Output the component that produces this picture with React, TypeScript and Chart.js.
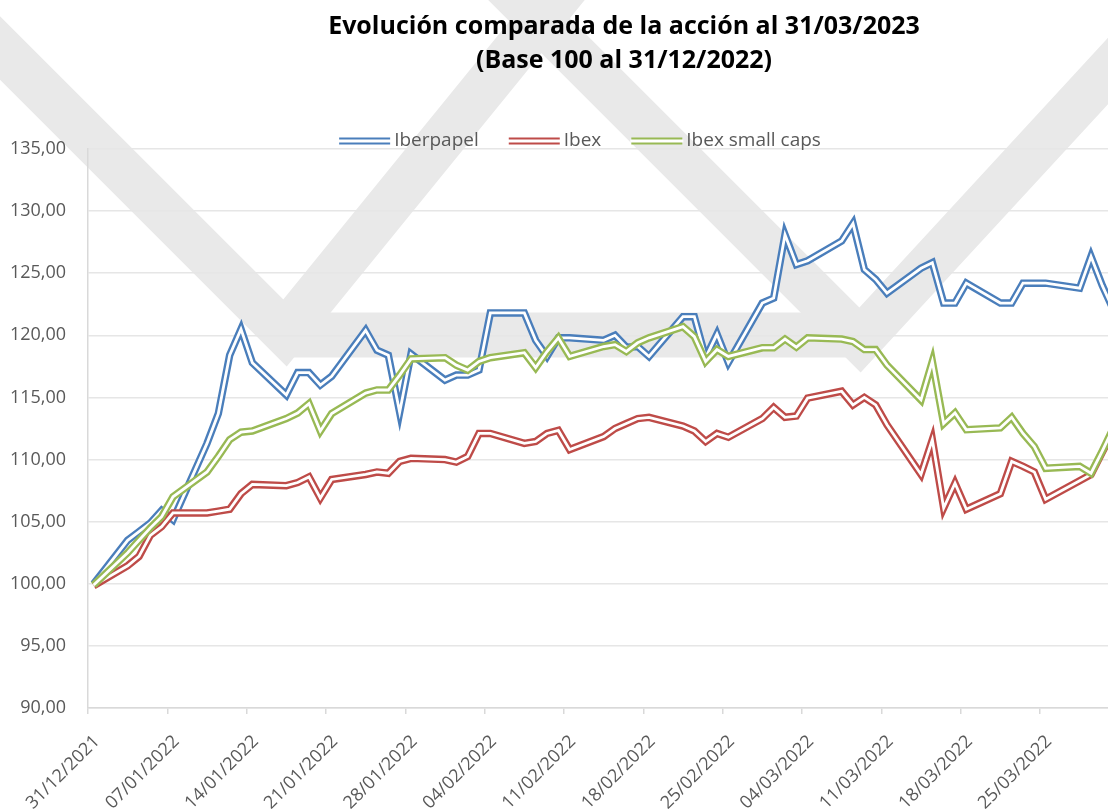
import React, { useEffect, useRef } from "react";
import { Chart, registerables } from "chart.js";

Chart.register(...registerables);

// ---------- DATA ----------
// trading days, counted in calendar days from 31/12/2021 (day 0)
const days = [
  0,
  3, 4, 5, 6, 7,
  10, 11, 12, 13, 14,
  17, 18, 19, 20, 21,
  24, 25, 26, 27, 28,
  31, 32, 33, 34, 35,
  38, 39, 40, 41, 42,
  45, 46, 47, 48, 49,
  52, 53, 54, 55, 56,
  59, 60, 61, 62, 63,
  66, 67, 68, 69, 70,
  73, 74, 75, 76, 77,
  80, 81, 82, 83, 84,
  87, 88, 89, 90,
];

const iberpapel = [
  100.0,
  103.5, 104.2, 104.9, 105.9, 105.15,
  111.3, 113.7, 118.4, 120.5, 117.8,
  115.2, 117.0, 117.0, 116.0, 116.7,
  120.4, 118.8, 118.4, 113.8, 118.5,
  116.4, 116.8, 116.8, 117.2, 121.8,
  121.8, 119.6, 118.3, 119.8, 119.8,
  119.6, 120.0, 119.05, 119.1, 118.3,
  121.5, 121.5, 118.2, 120.1, 117.8,
  122.6, 123.0, 128.1, 125.7, 126.0,
  127.6, 129.0, 125.3, 124.5, 123.4,
  125.4, 125.85, 122.6, 122.6, 124.2,
  122.6, 122.6, 124.2, 124.2, 124.2,
  123.8, 126.35, 124.0, 122.0,
];

const ibex = [
  99.85,
  101.45, 102.2, 103.9, 104.6, 105.7,
  105.7, 105.85, 106.0, 107.25, 108.0,
  107.9, 108.15, 108.6, 106.9, 108.4,
  108.8, 109.0, 108.9, 109.85, 110.1,
  110.0, 109.8, 110.25, 112.1, 112.1,
  111.3, 111.45, 112.1, 112.35, 110.8,
  111.85, 112.5, 112.9, 113.3, 113.4,
  112.7, 112.3, 111.45, 112.1, 111.8,
  113.3, 114.2, 113.4, 113.5, 114.95,
  115.5, 114.4, 115.0, 114.4, 112.8,
  108.8, 111.6, 106.1, 108.1, 106.0,
  107.25, 109.85, 109.45, 109.0, 106.8,
  108.3, 108.8, 110.6, 112.4,
];

const ibexSmallCaps = [
  99.9,
  102.5, 103.5, 104.5, 105.4, 107.0,
  109.0, 110.25, 111.6, 112.2, 112.3,
  113.3, 113.75, 114.5, 112.3, 113.7,
  115.35, 115.6, 115.6, 116.8, 118.1,
  118.2, 117.6, 117.2, 117.9, 118.2,
  118.6, 117.4, 118.7, 119.8, 118.3,
  119.1, 119.25, 118.7, 119.4, 119.8,
  120.7, 119.9, 117.9, 118.85, 118.3,
  119.0, 119.0, 119.7, 119.05, 119.8,
  119.7, 119.5, 118.85, 118.85, 117.6,
  114.8, 117.9, 112.9, 113.75, 112.4,
  112.55, 113.4, 112.1, 111.05, 109.3,
  109.45, 108.9, 110.7, 112.6,
];

const xTickLabels = [
  "31/12/2021", "07/01/2022", "14/01/2022", "21/01/2022", "28/01/2022",
  "04/02/2022", "11/02/2022", "18/02/2022", "25/02/2022", "04/03/2022",
  "11/03/2022", "18/03/2022", "25/03/2022",
];

const seriesNames = ["Iberpapel", "Ibex", "Ibex small caps"];
const seriesColors = ["#4A7EBB", "#BE4B48", "#98B954"];
const titleLines = [
  "Evolución comparada de la acción al 31/03/2023",
  "(Base 100 al 31/12/2022)",
];

const Y_MIN = 90;
const Y_MAX = 135;
const Y_STEP = 5;

// ---------- STYLE ----------
const FONT = "'Open Sans', 'DejaVu Sans', sans-serif";
const TEXT_COLOR = "#595959";
const OUTER_W = 7.5;
const INNER_W = 2.8;

const overlayPlugin = {
  id: "overlay",
  beforeDraw(chart: any) {
    const ctx = chart.ctx;
    ctx.save();
    ctx.strokeStyle = "#e9e9e9";
    ctx.lineWidth = 45;
    ctx.lineJoin = "miter";
    ctx.lineCap = "butt";
    ctx.beginPath();
    ctx.moveTo(-60, -12);
    ctx.lineTo(285, 333);
    ctx.lineTo(598, -52);
    ctx.stroke();
    ctx.beginPath();
    ctx.moveTo(285, 335);
    ctx.lineTo(860, 335);
    ctx.stroke();
    ctx.beginPath();
    ctx.moveTo(475, -45);
    ctx.lineTo(860, 340);
    ctx.lineTo(1215, -45);
    ctx.stroke();
    ctx.restore();
  },
  afterDraw(chart: any) {
    const ctx = chart.ctx;
    ctx.save();
    // title
    ctx.fillStyle = "#000000";
    ctx.font = `bold 25px ${FONT}`;
    ctx.textAlign = "center";
    ctx.textBaseline = "alphabetic";
    ctx.fillText(titleLines[0], 624, 34);
    ctx.fillText(titleLines[1], 624, 68);

    // legend
    ctx.font = `19px ${FONT}`;
    const sampleLen = 51;
    const gapText = 4;
    const gapItem = 30;
    const widths = seriesNames.map((n) => sampleLen + gapText + ctx.measureText(n).width);
    const total = widths.reduce((a, b) => a + b, 0) + gapItem * (widths.length - 1);
    let x = 580 - total / 2;
    const y = 141;
    seriesNames.forEach((name, i) => {
      ctx.lineCap = "butt";
      ctx.strokeStyle = seriesColors[i];
      ctx.lineWidth = OUTER_W - 0.5;
      ctx.beginPath();
      ctx.moveTo(x, y);
      ctx.lineTo(x + sampleLen, y);
      ctx.stroke();
      ctx.strokeStyle = "#ffffff";
      ctx.lineWidth = INNER_W;
      ctx.beginPath();
      ctx.moveTo(x - 1, y);
      ctx.lineTo(x + sampleLen + 1, y);
      ctx.stroke();
      ctx.fillStyle = TEXT_COLOR;
      ctx.textAlign = "left";
      ctx.textBaseline = "middle";
      ctx.fillText(name, x + sampleLen + gapText, y);
      x += widths[i] + gapItem;
    });
    ctx.restore();
  },
};

function makePoints(values: number[]) {
  return days.map((d, i) => ({ x: d, y: values[i] }));
}

export default function App() {
  const canvasRef = useRef<HTMLCanvasElement | null>(null);

  useEffect(() => {
    if (!canvasRef.current) return;
    const series = [iberpapel, ibex, ibexSmallCaps];
    const datasets: any[] = [];
    series.forEach((values, i) => {
      const pts = makePoints(values);
      const baseOrder = (series.length - i) * 2;
      datasets.push({
        label: seriesNames[i],
        data: pts,
        borderColor: seriesColors[i],
        borderWidth: OUTER_W,
        pointRadius: 0,
        tension: 0,
        borderJoinStyle: "miter",
        borderCapStyle: "butt",
        fill: false,
        order: baseOrder,
      });
      datasets.push({
        label: seriesNames[i] + "_inner",
        data: pts,
        borderColor: "#ffffff",
        borderWidth: INNER_W,
        pointRadius: 0,
        tension: 0,
        borderJoinStyle: "miter",
        borderCapStyle: "butt",
        fill: false,
        order: baseOrder - 1,
      });
    });

    const chart = new Chart(canvasRef.current, {
      type: "line",
      data: { datasets },
      plugins: [overlayPlugin],
      options: {
        animation: false,
        responsive: true,
        maintainAspectRatio: false,
        layout: { padding: { top: 149, right: 0, bottom: 0, left: 0 } },
        plugins: {
          legend: { display: false },
          title: { display: false },
          tooltip: { enabled: false },
        },
        scales: {
          x: {
            type: "linear",
            min: -0.5,
            max: 89.5,
            afterBuildTicks: (scale: any) => {
              scale.ticks = xTickLabels.map((_, k) => ({ value: -0.5 + 7 * k }));
            },
            afterFit: (scale: any) => {
              scale.height = 101;
            },
            ticks: {
              autoSkip: false,
              maxRotation: 45,
              minRotation: 45,
              padding: 17,
              labelOffset: 9,
              color: TEXT_COLOR,
              font: { family: FONT, size: 18 },
              callback: (_v: any, index: number) => xTickLabels[index],
            },
            grid: {
              display: true,
              drawOnChartArea: false,
              drawTicks: true,
              tickLength: 6,
              color: "#d9d9d9",
              lineWidth: 1.5,
            },
            border: { display: true, color: "#d9d9d9", width: 1.5 },
          },
          y: {
            min: Y_MIN,
            max: Y_MAX,
            afterFit: (scale: any) => {
              scale.width = 88;
            },
            ticks: {
              stepSize: Y_STEP,
              padding: 22,
              color: TEXT_COLOR,
              font: { family: FONT, size: 18 },
              callback: (v: any) => Number(v).toFixed(2).replace(".", ","),
            },
            grid: {
              color: "#e6e6e6",
              lineWidth: 1.5,
              drawTicks: false,
            },
            border: { display: true, color: "#d9d9d9", width: 1.5 },
          },
        },
      },
    });
    return () => chart.destroy();
  }, []);

  return (
    <div style={{ position: "absolute", left: 0, top: 0, width: 1108, height: 809, background: "#ffffff" }}>
      <canvas ref={canvasRef} />
    </div>
  );
}
